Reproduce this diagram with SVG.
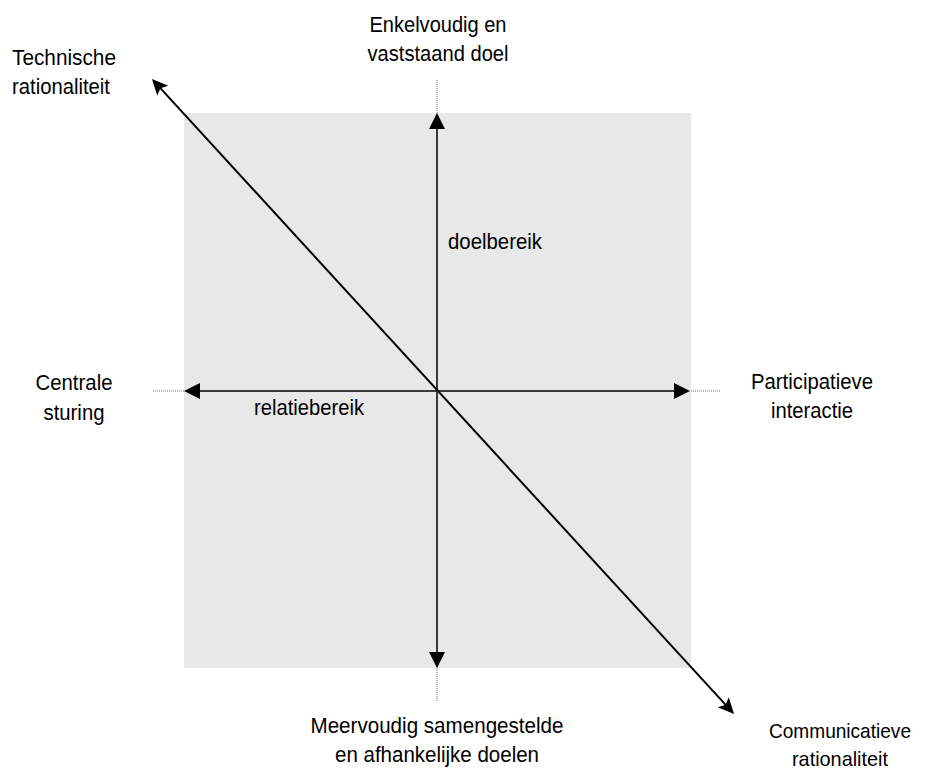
<svg xmlns="http://www.w3.org/2000/svg" width="931" height="774" viewBox="0 0 931 774">
  <style>
    .lbl { font-family: "Liberation Sans", Arial, sans-serif; font-size: 22.5px; fill: #000; }
    .mid { text-anchor: middle; }
    .sm { font-size: 21px; }
    .axis { stroke: #3a3a3a; stroke-width: 2; fill: none; }
    .diag { stroke: #000; stroke-width: 2; fill: none; }
    .dots { stroke: #777; stroke-width: 1; stroke-dasharray: 1 1; fill: none; }
  </style>
  <defs>
    <marker id="tri" viewBox="0 -8 16 16" refX="0" refY="0" markerWidth="16" markerHeight="16" markerUnits="userSpaceOnUse" orient="auto-start-reverse">
      <path d="M0,-8 L16,0 L0,8 Z" fill="#000"/>
    </marker>
    <marker id="barb" viewBox="0 -8 16 16" refX="5" refY="0" markerWidth="16" markerHeight="16" markerUnits="userSpaceOnUse" orient="auto-start-reverse">
      <path d="M16,0 L0,-7.5 L3.5,0 L0,7.5 Z" fill="#000"/>
    </marker>
  </defs>

  <!-- shaded field -->
  <rect id="field" x="184" y="113" width="507" height="555" fill="#e8e8e8"/>

  <g id="connectors">
    <!-- dotted extensions beyond the field -->
    <line class="dots" x1="437" y1="80" x2="437" y2="113"/>
    <line class="dots" x1="437" y1="668" x2="437" y2="701"/>
    <line class="dots" x1="153" y1="391" x2="184" y2="391"/>
    <line class="dots" x1="691" y1="391" x2="721" y2="391"/>
    <!-- vertical axis: doelbereik -->
    <line class="axis" x1="437" y1="129" x2="437" y2="652" marker-start="url(#tri)" marker-end="url(#tri)"/>
    <!-- horizontal axis: relatiebereik -->
    <line class="axis" x1="200" y1="391" x2="674" y2="391" marker-start="url(#tri)" marker-end="url(#tri)"/>
    <!-- diagonal: technische vs communicatieve rationaliteit -->
    <line class="diag" x1="159.4" y1="87.1" x2="726.6" y2="705.9" marker-start="url(#barb)" marker-end="url(#barb)"/>
  </g>

  <g id="technisch">
    <text class="lbl" x="12" y="65" textLength="104" lengthAdjust="spacingAndGlyphs">Technische</text>
    <text class="lbl" x="12" y="94" textLength="98" lengthAdjust="spacingAndGlyphs">rationaliteit</text>
  </g>
  <g id="enkelvoudig">
    <text class="lbl mid" x="438" y="32" textLength="137" lengthAdjust="spacingAndGlyphs">Enkelvoudig en</text>
    <text class="lbl mid" x="438" y="61" textLength="141" lengthAdjust="spacingAndGlyphs">vaststaand doel</text>
  </g>
  <g id="centraal">
    <text class="lbl mid" x="74" y="390" textLength="77" lengthAdjust="spacingAndGlyphs">Centrale</text>
    <text class="lbl mid" x="74" y="420" textLength="61" lengthAdjust="spacingAndGlyphs">sturing</text>
  </g>
  <g id="participatief">
    <text class="lbl mid" x="812" y="389" textLength="122" lengthAdjust="spacingAndGlyphs">Participatieve</text>
    <text class="lbl mid" x="812" y="418" textLength="82" lengthAdjust="spacingAndGlyphs">interactie</text>
  </g>
  <g id="doelbereik">
    <text class="lbl" x="448" y="249" textLength="94" lengthAdjust="spacingAndGlyphs">doelbereik</text>
  </g>
  <g id="relatiebereik">
    <text class="lbl" x="254" y="415" textLength="110" lengthAdjust="spacingAndGlyphs">relatiebereik</text>
  </g>
  <g id="meervoudig">
    <text class="lbl mid" x="437" y="733" textLength="253" lengthAdjust="spacingAndGlyphs">Meervoudig samengestelde</text>
    <text class="lbl mid" x="437" y="762" textLength="204" lengthAdjust="spacingAndGlyphs">en afhankelijke doelen</text>
  </g>
  <g id="communicatief">
    <text class="lbl sm mid" x="840" y="738" textLength="142" lengthAdjust="spacingAndGlyphs">Communicatieve</text>
    <text class="lbl sm mid" x="840" y="766" textLength="96" lengthAdjust="spacingAndGlyphs">rationaliteit</text>
  </g>
</svg>
